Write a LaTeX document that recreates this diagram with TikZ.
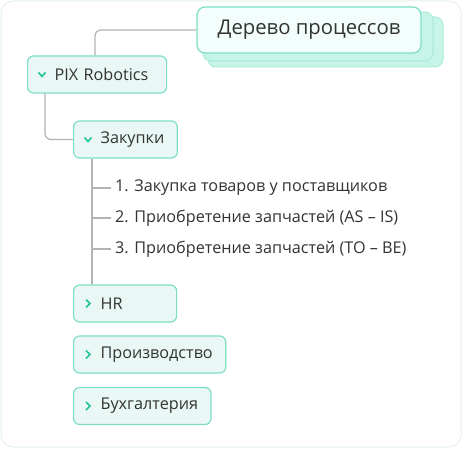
\documentclass[tikz,border=0pt]{standalone}
\usepackage{fontspec}
\setmainfont{Open Sans}
\usetikzlibrary{positioning}

\definecolor{mintline}{HTML}{7EDFC6}
\definecolor{mintfill}{HTML}{E9F8F5}
\definecolor{rootfill}{HTML}{F3FDFB}
\definecolor{stackfill}{HTML}{C6F4E7}
\definecolor{stackline}{HTML}{A8EBD8}
\definecolor{chevcol}{HTML}{22C39B}
\definecolor{wire}{HTML}{B3B3B3}
\definecolor{inkgray}{HTML}{333333}
\definecolor{cardline}{HTML}{E6F2EF}

\begin{document}
\begin{tikzpicture}[
    x=1pt, y=-1pt,
    topic/.style={draw=mintline, line width=1.2pt, fill=mintfill, rounded corners=6pt,
        minimum height=37pt, inner xsep=13pt, anchor=west, text=inkgray,
        font=\fontsize{16.2}{19}\selectfont},
    rootbox/.style={draw=mintline, line width=1.2pt, fill=rootfill, rounded corners=8pt,
        minimum width=224pt, minimum height=46pt, text=inkgray,
        font=\fontsize{20.3}{24}\selectfont},
    stack/.style={draw=stackline, line width=1pt, fill=stackfill, rounded corners=8pt},
    leaf/.style={anchor=west, inner sep=0pt, text=inkgray, font=\fontsize{16.2}{19}\selectfont},
    wire/.style={draw=wire, line width=1.2pt, rounded corners=6pt},
    chevron/.style={draw=chevcol, line width=1.6pt},
    chevdown/.pic={\draw[chevron] (-3.5,-2) -- (0,2) -- (3.5,-2);},
    chevright/.pic={\draw[chevron] (-2,-4) -- (2,0) -- (-2,4);}
]
    \useasboundingbox (0,0) rectangle (463,449);

    % Card
    \draw[cardline, line width=1pt, fill=white, rounded corners=12pt] (1,1) rectangle (461,447);

    % Root with stacked sheets
    \coordinate (rootpos) at (309,30);
    \path[stack] ([shift={(-101,-13)}]rootpos) rectangle ([shift={(134,37)}]rootpos);
    \path[stack] ([shift={(-106,-18)}]rootpos) rectangle ([shift={(124,31)}]rootpos);
    \node[rootbox] (root) at (rootpos) {Дерево процессов};

    % Topics
    \node[topic, align=left, text width=113pt] (pix) at (27,74.5) {\hspace*{14pt}PIX Robotics};
    \node[topic] (zakupki) at (73,139.5) {\hspace*{14pt}Закупки};
    \node[topic, align=left, text width=77pt] (hr) at (73,303.5) {\hspace*{14pt}HR};
    \node[topic] (proizv) at (73,354.5) {\hspace*{14pt}Производство};
    \node[topic] (buh) at (73,406) {\hspace*{14pt}Бухгалтерия};

    % Chevrons
    \pic at ([xshift=15pt]pix.west) {chevdown};
    \pic at ([xshift=15pt]zakupki.west) {chevdown};
    \pic at ([xshift=15pt]hr.west) {chevright};
    \pic at ([xshift=15pt]proizv.west) {chevright};
    \pic at ([xshift=15pt]buh.west) {chevright};

    % Leaves
    \node[leaf] (item1) at (115,188) {1. Закупка товаров у поставщиков};
    \node[leaf] (item2) at (115,218) {2. Приобретение запчастей (AS – IS)};
    \node[leaf] (item3) at (115,249) {3. Приобретение запчастей (TO – BE)};

    % Connectors
    \coordinate (rootbend) at (95,30);
    \coordinate (pixfoot) at (45,0);
    \coordinate (spine) at (92,0);
    \draw[wire] (root.west) -- (rootbend) -- (rootbend |- pix.north);
    \draw[wire] (pixfoot |- pix.south) -- (pixfoot |- zakupki.west) -- (zakupki.west);
    \draw[wire] (spine |- zakupki.south) -- (spine |- hr.north);
    \foreach \i in {1,2,3}
        \draw[wire] (spine |- item\i.west) -- ([xshift=-4pt]item\i.west);
\end{tikzpicture}
\end{document}
